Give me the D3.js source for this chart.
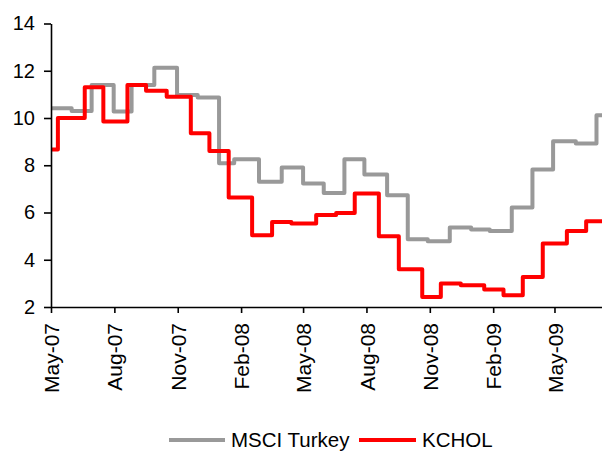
<!DOCTYPE html>
<html>
<head>
<meta charset="utf-8">
<script src="https://cdn.jsdelivr.net/npm/d3@7"></script>
<style>
  html, body { margin: 0; padding: 0; background: #fff; }
  svg { display: block; }
  text { font-family: Arial, "Liberation Sans", sans-serif; fill: #000; }
</style>
</head>
<body>
<svg id="chart" width="602" height="452"></svg>
<script>
// Month-end index level of MSCI Turkey (step values, each held until the next date)
const msciDates = ["2007-05-01","2007-05-31","2007-06-29","2007-07-31","2007-08-26","2007-09-28",
  "2007-10-31","2007-11-30","2007-12-31","2008-01-22","2008-02-27","2008-03-31","2008-05-01",
  "2008-05-31","2008-06-30","2008-07-29","2008-08-31","2008-09-30","2008-10-29","2008-11-30",
  "2008-12-31","2009-01-27","2009-02-28","2009-03-30","2009-04-29","2009-06-01","2009-07-01"];
const msciValues = [10.41,10.3,11.4,10.28,11.4,12.13,10.97,10.87,8.08,8.25,7.3,7.9,7.23,
  6.83,8.25,7.61,6.73,4.87,4.78,5.36,5.28,5.22,6.21,7.82,9.02,8.92,10.12];

// KCHOL share price (step values)
const kcholDates = ["2007-05-01","2007-05-11","2007-06-19","2007-07-16","2007-08-20","2007-09-16",
  "2007-10-16","2007-11-20","2007-12-17","2008-01-14","2008-02-17","2008-03-17","2008-04-14",
  "2008-05-20","2008-06-18","2008-07-15","2008-08-19","2008-09-17","2008-10-21","2008-11-17",
  "2008-12-16","2009-01-19","2009-02-16","2009-03-16","2009-04-14","2009-05-19","2009-06-16"];
const kcholValues = [8.67,10.0,11.3,9.85,11.4,11.15,10.9,9.35,8.6,6.63,5.04,5.6,5.53,
  5.89,5.98,6.8,5.0,3.6,2.42,2.99,2.92,2.74,2.5,3.27,4.69,5.22,5.63];

const xTickDates = ["2007-05-01","2007-08-01","2007-11-01","2008-02-01","2008-05-01",
  "2008-08-01","2008-11-01","2009-02-01","2009-05-01"];
const yTicks = [2, 4, 6, 8, 10, 12, 14];
const xDomain = ["2007-05-01", "2009-07-09"];

const seriesNames = ["MSCI Turkey", "KCHOL"];
const seriesColors = ["#999999", "#ff0000"];

const parse = d3.utcParse("%Y-%m-%d");
const fmt = d3.utcFormat("%b-%y");

const svg = d3.select("#chart");
const plotLeft = 51, plotRight = 602, plotTop = 23.5, plotBottom = 307;

const x = d3.scaleUtc().domain(xDomain.map(parse)).range([plotLeft, plotRight]);
const y = d3.scaleLinear().domain([2, 14]).range([plotBottom, plotTop]);

function seriesPoints(dates, values) {
  const pts = dates.map((d, i) => ({ date: parse(d), value: values[i] }));
  // hold the last value to the right edge of the axis
  pts.push({ date: x.domain()[1], value: values[values.length - 1] });
  return pts;
}

const line = d3.line()
  .x(d => x(d.date))
  .y(d => y(d.value))
  .curve(d3.curveStepAfter);

const series = [
  seriesPoints(msciDates, msciValues),
  seriesPoints(kcholDates, kcholValues)
];

// lines
svg.append("g")
  .selectAll("path")
  .data(series)
  .join("path")
  .attr("d", line)
  .attr("fill", "none")
  .attr("stroke", (d, i) => seriesColors[i])
  .attr("stroke-width", 4)
  .attr("stroke-linejoin", "round");

// y axis
const yAxis = svg.append("g")
  .attr("transform", `translate(${plotLeft},0)`)
  .call(d3.axisLeft(y).tickValues(yTicks).tickSize(7).tickPadding(9).tickSizeOuter(0));
yAxis.select(".domain").attr("stroke", "#000").attr("stroke-width", 1.6);
yAxis.selectAll(".tick line").attr("stroke", "#000").attr("stroke-width", 1.6);
yAxis.selectAll(".tick text").style("font-size", "20px").attr("font-family", null);

// x axis
const xAxis = svg.append("g")
  .attr("transform", `translate(0,${plotBottom})`)
  .call(d3.axisBottom(x).tickValues(xTickDates.map(parse)).tickFormat(fmt)
    .tickSize(6).tickSizeOuter(0));
xAxis.select(".domain").attr("stroke", "#000").attr("stroke-width", 1.6);
xAxis.selectAll(".tick line").attr("stroke", "#000").attr("stroke-width", 1.6);
xAxis.selectAll(".tick text")
  .style("font-size", "21px")
  .attr("font-family", null)
  .attr("text-anchor", "end")
  .attr("transform", "rotate(-90)")
  .attr("x", -16)
  .attr("y", 0)
  .attr("dy", "0.36em");

// legend
const legendItems = [
  { x0: 169, x1: 225, tx: 231 },
  { x0: 359, x1: 416, tx: 422 }
];
const legend = svg.append("g");
legend.selectAll("line")
  .data(seriesNames)
  .join("line")
  .attr("x1", (d, i) => legendItems[i].x0)
  .attr("x2", (d, i) => legendItems[i].x1)
  .attr("y1", 440).attr("y2", 440)
  .attr("stroke", (d, i) => seriesColors[i])
  .attr("stroke-width", 4);
legend.selectAll("text")
  .data(seriesNames)
  .join("text")
  .attr("x", (d, i) => legendItems[i].tx)
  .attr("y", 447)
  .style("font-size", "20.5px")
  .text(d => d);
</script>
</body>
</html>
